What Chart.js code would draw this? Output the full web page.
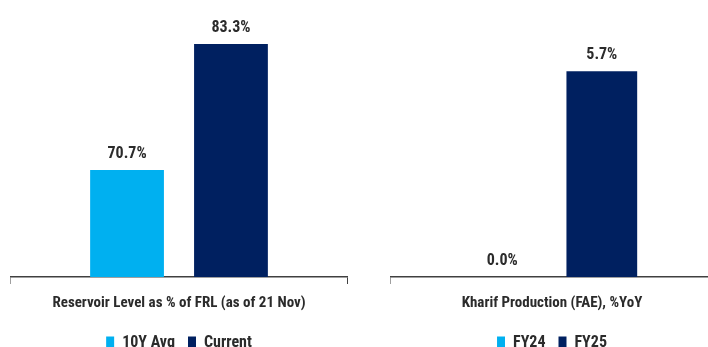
<!DOCTYPE html>
<html>
<head>
<meta charset="utf-8">
<script src="https://cdn.jsdelivr.net/npm/chart.js@4"></script>
<style>
  html, body { margin: 0; padding: 0; background: #fff; overflow: hidden; width: 708px; height: 347px; }
  canvas { position: absolute; top: 0; }
  #reservoir { left: 10px; }
  #kharif { left: 390px; }
</style>
</head>
<body>
<canvas id="reservoir" width="338" height="361"></canvas>
<canvas id="kharif" width="324" height="361"></canvas>
<script>
const reservoirCats = ["Reservoir Level as % of FRL (as of 21 Nov)"];
const reservoirSeries = ["10Y Avg", "Current"];
const reservoirValues = [70.7, 83.3];

const kharifCats = ["Kharif Production (FAE), %YoY"];
const kharifSeries = ["FY24", "FY25"];
const kharifValues = [0.0, 5.7];

const barColors = ["#00B0F0", "#002060"];
const textColor = "#2b2b2b";
const fontFamily = "'Roboto Condensed', 'DejaVu Sans Condensed', sans-serif";

// value labels above each bar
const barLabels = {
    id: "barLabels",
    afterDatasetsDraw(chart) {
        const c = chart.ctx;
        c.save();
        c.fillStyle = textColor;
        c.font = "bold 16px " + fontFamily;
        c.textAlign = "center";
        c.textBaseline = "alphabetic";
        chart.data.datasets.forEach((ds, i) => {
            chart.getDatasetMeta(i).data.forEach((bar, j) => {
                c.fillText(ds.data[j].toFixed(1) + "%", bar.x, bar.y - 12);
            });
        });
        c.restore();
    },
};

function makeChart(id, cats, series, values, yMin, yMax) {
    return new Chart(document.getElementById(id), {
        type: "bar",
        data: {
            labels: cats,
            datasets: series.map((name, i) => ({
                label: name,
                data: [values[i]],
                backgroundColor: barColors[i],
                categoryPercentage: 0.615,
                barPercentage: 0.71,
            })),
        },
        options: {
            responsive: false,
            animation: false,
            layout: { padding: { top: 17, left: 0, right: 0, bottom: 0 } },
            plugins: {
                tooltip: { enabled: false },
                legend: {
                    position: "bottom",
                    labels: {
                        boxWidth: 8,
                        boxHeight: 13,
                        padding: 13,
                        color: textColor,
                        font: { family: fontFamily, size: 16, weight: "bold" },
                    },
                },
            },
            scales: {
                x: {
                    grid: {
                        offset: true,
                        drawOnChartArea: false,
                        drawTicks: true,
                        tickLength: 7,
                        color: "#404040",
                        lineWidth: 1.5,
                    },
                    border: { display: true, color: "#404040", width: 1.5 },
                    ticks: {
                        padding: 10,
                        color: textColor,
                        font: { family: fontFamily, size: 15, weight: "bold" },
                    },
                },
                y: {
                    display: false,
                    min: yMin,
                    max: yMax,
                },
            },
        },
        plugins: [barLabels],
    });
}

makeChart("reservoir", reservoirCats, reservoirSeries, reservoirValues, 60, 86);
makeChart("kharif", kharifCats, kharifSeries, kharifValues, 0, 7.2);
</script>
</body>
</html>
